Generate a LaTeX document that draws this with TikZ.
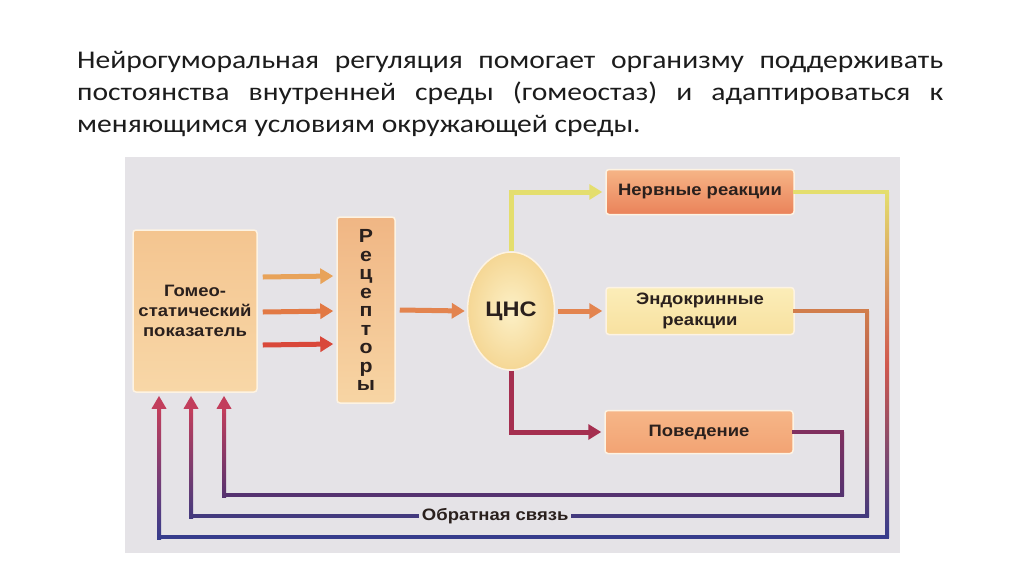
\documentclass[tikz,border=0pt]{standalone}
\usepackage{fontspec}
\setmainfont{Carlito}
\newfontfamily\titlefont[FakeStretch=1.16]{Carlito}
\newfontfamily\diagfont[FakeStretch=1.12]{Liberation Sans}
\usepackage{xcolor}
\usetikzlibrary{arrows.meta,shapes.geometric,calc}

\definecolor{panel}{HTML}{E5E3E7}
\definecolor{ink}{HTML}{2A201D}
\definecolor{titleink}{HTML}{1C1C1C}
\definecolor{boxedge}{HTML}{FDF3E3}
\definecolor{pokT}{HTML}{F4C590}
\definecolor{pokB}{HTML}{F8D7A7}
\definecolor{recT}{HTML}{F0B684}
\definecolor{recB}{HTML}{F7D5A4}
\definecolor{cnsIn}{HTML}{FCF0C6}
\definecolor{cnsOut}{HTML}{F5D795}
\definecolor{nervT}{HTML}{F6B587}
\definecolor{nervB}{HTML}{EA8259}
\definecolor{endoT}{HTML}{FBEDB8}
\definecolor{endoB}{HTML}{F8E1A0}
\definecolor{povT}{HTML}{F6B688}
\definecolor{povB}{HTML}{F2A373}
\definecolor{arrA}{HTML}{E8A35A}
\definecolor{arrM}{HTML}{E27944}
\definecolor{arrR}{HTML}{D9483A}
\definecolor{arrB}{HTML}{E3844F}
\definecolor{yel}{HTML}{E4DE6E}
\definecolor{crim}{HTML}{A52F50}
\definecolor{fbred}{HTML}{D0584E}
\definecolor{fbmid}{HTML}{A84850}
\definecolor{fbN}{HTML}{363C8C}
\definecolor{fbE}{HTML}{433A7E}
\definecolor{fbP}{HTML}{553270}
\definecolor{tipred}{HTML}{C23E5C}
\definecolor{endoline}{HTML}{D17D4C}
\definecolor{povline}{HTML}{80305F}

\tikzset{
  block/.style={rectangle, rounded corners=3pt, draw=boxedge, line width=1.5pt,
    text=ink, align=center, font=\diagfont\bfseries\fontsize{16.5}{20}\selectfont},
  flow/.style={line width=5pt, -{Triangle[length=13pt, width=15pt]}},
  fb/.style={line width=4pt, line cap=rect},
  fbtip/.style={line width=4pt, -{Triangle[length=13pt, width=14pt]}},
  fblabel/.style={fill=panel, inner xsep=3pt, text=ink,
    font=\diagfont\bfseries\fontsize{16.5}{20}\selectfont}
}

\begin{document}
\begin{tikzpicture}[x=1pt, y=-1pt]
    \fill[white] (0,0) rectangle (1024,574);
    \useasboundingbox (0,0) rectangle (1024,574);
    \node[anchor=base west, text width=866pt, align=justify, inner sep=0pt, text=titleink,
      font=\titlefont\fontsize{25.5}{32}\selectfont] (title) at (77,68)
      {Нейрогуморальная регуляция помогает организму поддерживать\linebreak
       постоянства внутренней среды (гомеостаз) и адаптироваться к\linebreak
       меняющимся условиям окружающей среды.};
    \fill[panel] (125,157) rectangle (900,553);

    \node[block, top color=pokT, bottom color=pokB, minimum width=124, minimum height=162] (pok) at (195,311) {Гомео-\\статический\\показатель};
    \node[block, top color=recT, bottom color=recB, minimum width=58, minimum height=186,
      font=\diagfont\bfseries\fontsize{19}{18.5}\selectfont] (rec) at (366,310) {Р\\е\\ц\\е\\п\\т\\о\\р\\ы};
    \node[ellipse, draw=boxedge, line width=1.5pt, inner color=cnsIn, outer color=cnsOut,
      minimum width=87, minimum height=118, text=ink,
      font=\diagfont\bfseries\fontsize{21}{24}\selectfont] (cns) at (511,311) {ЦНС};
    \node[block, top color=nervT, bottom color=nervB, minimum width=188, minimum height=45] (nerv) at (700,192) {Нервные реакции};
    \node[block, top color=endoT, bottom color=endoB, minimum width=188, minimum height=47,
      font=\diagfont\bfseries\fontsize{16.5}{21}\selectfont] (endo) at (700,311) {Эндокринные\\реакции};
    \node[block, top color=povT, bottom color=povB, minimum width=188, minimum height=43] (pov) at (699,432) {Поведение};

    \draw[flow, arrA] ([xshift=5pt, yshift=34pt]pok.east) -- ([xshift=-3pt, yshift=34pt]rec.west);
    \draw[flow, arrM] ([xshift=5pt, yshift=-1pt]pok.east) -- ([xshift=-3pt, yshift=-1pt]rec.west);
    \draw[flow, arrR] ([xshift=5pt, yshift=-34pt]pok.east) -- ([xshift=-3pt, yshift=-34pt]rec.west);
    \draw[flow, arrB] ([xshift=4pt]rec.east) -- ([xshift=-2pt]cns.west);
    \draw[flow, yel] (cns.north) |- ([xshift=-3pt]nerv.west);
    \draw[flow, arrB] ([xshift=3pt]cns.east) -- ([xshift=-3pt]endo.west);
    \draw[flow, crim] (cns.south) |- ([xshift=-3pt]pov.west);

    \coordinate (nB) at (887,537);
    \coordinate (eB) at (867,516);
    \coordinate (pB) at (842,495);
    \coordinate (nL) at (159,537);
    \coordinate (eL) at (191,516);
    \coordinate (pL) at (224,495);

    \draw[fb, yel] (nerv.east) -- (nerv.east -| nB);
    \shade[top color=yel, bottom color=fbN, middle color=fbred] ($(nerv.east -| nB)+(-2,0)$) rectangle ($(nB)+(2,0)$);
    \draw[fb, fbN] (nB) -- (nL);
    \shade[top color=tipred, bottom color=fbN] ($(nL)+(-2,2)$) rectangle ($(nL |- pok.south)+(2,16)$);
    \draw[fbtip, tipred] ($(nL |- pok.south)+(0,20)$) -- ($(nL |- pok.south)+(0,3)$);

    \draw[fb, endoline] (endo.east) -- (endo.east -| eB);
    \shade[top color=endoline, bottom color=fbE, middle color=fbmid] ($(endo.east -| eB)+(-2,0)$) rectangle ($(eB)+(2,0)$);
    \draw[fb, fbE] (eB) -- node[fblabel, pos=0.55] {Обратная связь} (eL);
    \shade[top color=tipred, bottom color=fbE] ($(eL)+(-2,2)$) rectangle ($(eL |- pok.south)+(2,16)$);
    \draw[fbtip, tipred] ($(eL |- pok.south)+(0,20)$) -- ($(eL |- pok.south)+(0,3)$);

    \draw[fb, povline] (pov.east) -- (pov.east -| pB);
    \shade[top color=povline, bottom color=fbP] ($(pov.east -| pB)+(-2,0)$) rectangle ($(pB)+(2,0)$);
    \draw[fb, fbP] (pB) -- (pL);
    \shade[top color=tipred, bottom color=fbP] ($(pL)+(-2,2)$) rectangle ($(pL |- pok.south)+(2,16)$);
    \draw[fbtip, tipred] ($(pL |- pok.south)+(0,20)$) -- ($(pL |- pok.south)+(0,3)$);
\end{tikzpicture}
\end{document}
